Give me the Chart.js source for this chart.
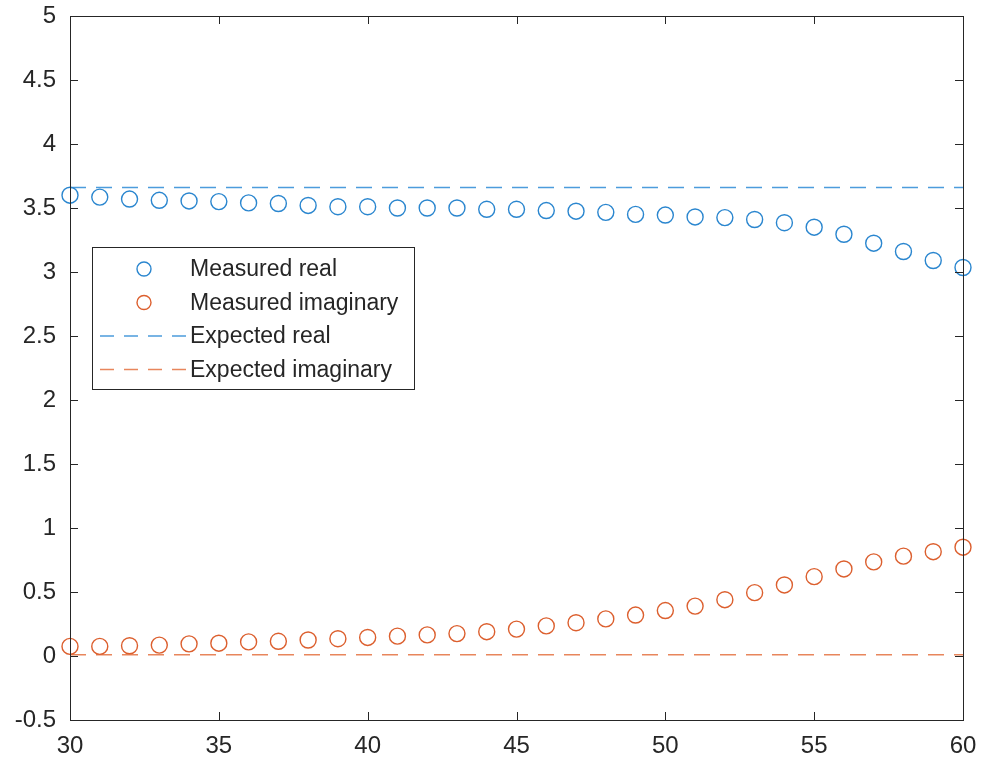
<!DOCTYPE html>
<html>
<head>
<meta charset="utf-8">
<script src="https://cdn.jsdelivr.net/npm/chart.js@4/dist/chart.umd.min.js"></script>
<style>
  html, body { margin: 0; padding: 0; background: #fff; }
  #wrap { width: 985px; height: 767px; }
</style>
</head>
<body>
<div id="wrap"><canvas id="chart" width="985" height="767"></canvas></div>
<script>
// ── Data ─────────────────────────────────────────────────────────────
const xValues = [30,31,32,33,34,35,36,37,38,39,40,41,42,43,44,45,46,47,48,49,50,51,52,53,54,55,56,57,58,59,60];
const measuredReal = [3.60,3.585,3.57,3.56,3.555,3.55,3.54,3.535,3.52,3.51,3.51,3.50,3.50,3.50,3.49,3.49,3.48,3.475,3.466,3.45,3.445,3.43,3.425,3.41,3.385,3.35,3.295,3.225,3.16,3.09,3.035];
const measuredImag = [0.075,0.075,0.08,0.085,0.095,0.10,0.11,0.115,0.125,0.135,0.145,0.155,0.165,0.175,0.19,0.21,0.235,0.26,0.29,0.32,0.355,0.39,0.44,0.495,0.555,0.62,0.68,0.735,0.78,0.815,0.85];
const expectedX = [30, 60];
const expectedReal = [3.66, 3.66];
const expectedImag = [0.01, 0.01];
const xTicks = [30,35,40,45,50,55,60];
const yTicks = [-0.5,0,0.5,1,1.5,2,2.5,3,3.5,4,4.5,5];

const BLUE = '#2a86cf', BLUE_DASH = '#4c9cdc';
const ORANGE = '#dc5f2e', ORANGE_DASH = '#e8865c';
const AXIS = '#262626';
const FONT = 'Liberation Sans, Arial, sans-serif';

const pts = (xs, ys) => xs.map((x, i) => ({ x, y: ys[i] }));

// box, inward ticks on all four sides, legend inside axes
const matlabAxes = {
  id: 'matlabAxes',
  afterDatasetsDraw(chart) {
    const { ctx, chartArea: a, scales: { x, y } } = chart;
    ctx.save();
    ctx.strokeStyle = AXIS;
    ctx.lineWidth = 1;
    ctx.strokeRect(a.left + 0.5, a.top + 0.5, a.right - a.left, a.bottom - a.top);
    const tl = 8;
    ctx.beginPath();
    xTicks.forEach(v => {
      const px = Math.round(x.getPixelForValue(v)) + 0.5;
      ctx.moveTo(px, a.bottom); ctx.lineTo(px, a.bottom - tl);
      ctx.moveTo(px, a.top); ctx.lineTo(px, a.top + tl);
    });
    yTicks.forEach(v => {
      const py = Math.round(y.getPixelForValue(v)) + 0.5;
      ctx.moveTo(a.left, py); ctx.lineTo(a.left + tl, py);
      ctx.moveTo(a.right, py); ctx.lineTo(a.right - tl, py);
    });
    ctx.stroke();

    // legend
    const bx = a.left + 22, by = 247, bw = 322, bh = 142;
    ctx.fillStyle = '#fff';
    ctx.fillRect(bx, by, bw, bh);
    ctx.strokeStyle = AXIS;
    ctx.strokeRect(bx + 0.5, by + 0.5, bw, bh);
    const rowH = 33.5, firstY = by + 22;
    ctx.font = '23px ' + FONT;
    ctx.textBaseline = 'middle';
    chart.data.datasets.forEach((ds, i) => {
      const cy = firstY + i * rowH;
      ctx.strokeStyle = ds.borderColor;
      ctx.lineWidth = 1.4;
      if (ds.showLine) {
        ctx.setLineDash([14, 10]);
        ctx.beginPath();
        ctx.moveTo(bx + 8, cy); ctx.lineTo(bx + 96, cy);
        ctx.stroke();
        ctx.setLineDash([]);
      } else {
        ctx.beginPath();
        ctx.arc(bx + 52, cy, 7, 0, Math.PI * 2);
        ctx.stroke();
      }
      ctx.fillStyle = AXIS;
      ctx.fillText(ds.label, bx + 98, cy + 1);
    });
    ctx.restore();
  }
};

new Chart(document.getElementById('chart'), {
  type: 'scatter',
  data: {
    datasets: [
      { label: 'Measured real', data: pts(xValues, measuredReal), borderColor: BLUE, backgroundColor: 'transparent',
        pointRadius: 8, pointBorderWidth: 1.4, showLine: false, clip: false },
      { label: 'Measured imaginary', data: pts(xValues, measuredImag), borderColor: ORANGE, backgroundColor: 'transparent',
        pointRadius: 8, pointBorderWidth: 1.4, showLine: false, clip: false },
      { label: 'Expected real', data: pts(expectedX, expectedReal), borderColor: BLUE_DASH, borderWidth: 1.4,
        borderDash: [16, 10], pointRadius: 0, showLine: true },
      { label: 'Expected imaginary', data: pts(expectedX, expectedImag), borderColor: ORANGE_DASH, borderWidth: 1.4,
        borderDash: [16, 10], pointRadius: 0, showLine: true }
    ]
  },
  options: {
    responsive: false,
    animation: false,
    layout: { padding: { top: 16, right: 22, left: 0, bottom: 0 } },
    plugins: { legend: { display: false }, tooltip: { enabled: false } },
    scales: {
      x: {
        type: 'linear', min: 30, max: 60,
        afterBuildTicks: s => { s.ticks = xTicks.map(v => ({ value: v })); },
        afterFit: s => { s.height = 47; s.paddingLeft = 0; s.paddingRight = 0; },
        grid: { display: false, drawTicks: false },
        border: { display: false },
        ticks: { color: AXIS, font: { family: FONT, size: 24 }, padding: 12, callback: v => String(v) }
      },
      y: {
        type: 'linear', min: -0.5, max: 5,
        afterBuildTicks: s => { s.ticks = yTicks.map(v => ({ value: v })); },
        afterFit: s => { s.width = 70; s.paddingTop = 0; s.paddingBottom = 0; },
        grid: { display: false, drawTicks: false },
        border: { display: false },
        ticks: { color: AXIS, font: { family: FONT, size: 24 }, padding: 14, callback: v => String(v) }
      }
    }
  },
  plugins: [matlabAxes]
});
</script>
</body>
</html>
